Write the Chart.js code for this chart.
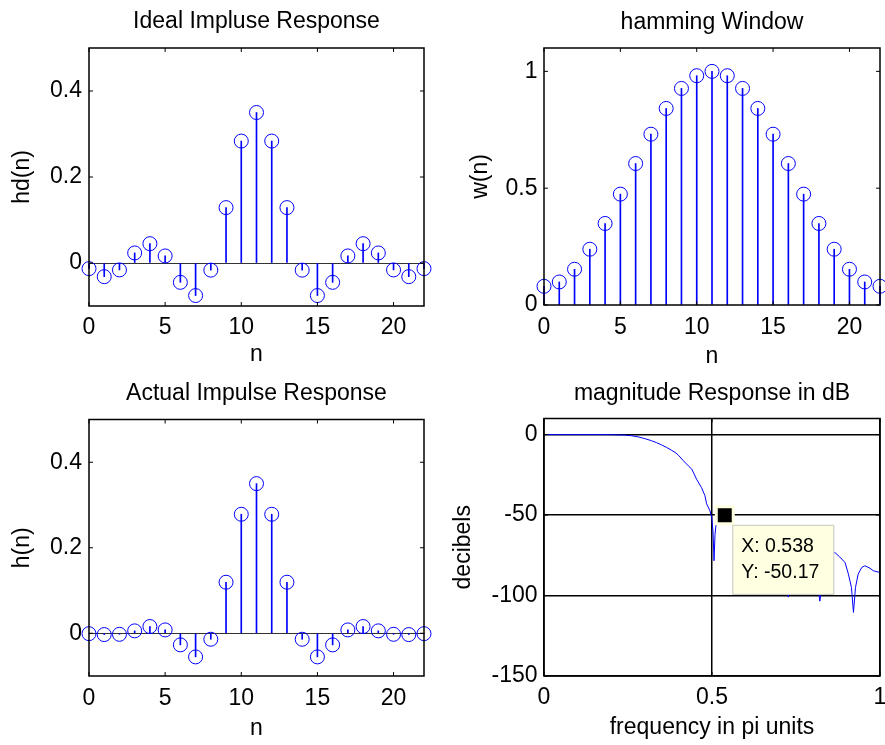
<!DOCTYPE html>
<html>
<head>
<meta charset="utf-8">
<title>FIR lowpass design - hamming window</title>
<script src="https://cdn.jsdelivr.net/npm/chart.js@4.4.1/dist/chart.umd.min.js"></script>
<style>
  html, body { margin: 0; padding: 0; background: #fff; overflow: hidden; }
  #page { position: relative; width: 885px; height: 745px; overflow: hidden; background: #fff; }
  canvas { position: absolute; }
</style>
</head>
<body>
<div id="page">
  <canvas id="c1" width="442" height="370" style="left:0;top:0"></canvas>
  <canvas id="c2" width="470" height="370" style="left:442px;top:0"></canvas>
  <canvas id="c3" width="442" height="375" style="left:0;top:370px"></canvas>
  <canvas id="c4" width="470" height="375" style="left:442px;top:370px"></canvas>
</div>
<script>
// sample index
const n = [0, 1, 2, 3, 4, 5, 6, 7, 8, 9, 10, 11, 12, 13, 14, 15, 16, 17, 18, 19, 20, 21, 22];
// ideal lowpass impulse response
const hd = [-0.0131, -0.0318, -0.0161, 0.0234, 0.0449, 0.0164, -0.0450, -0.0757, -0.0166, 0.1288, 0.2836, 0.35,
            0.2836, 0.1288, -0.0166, -0.0757, -0.0450, 0.0164, 0.0449, 0.0234, -0.0161, -0.0318, -0.0131];
// hamming window
const w = [0.08, 0.0986, 0.1530, 0.2387, 0.3489, 0.4745, 0.6055, 0.7311, 0.8413, 0.9270, 0.9814, 1.0,
           0.9814, 0.9270, 0.8413, 0.7311, 0.6055, 0.4745, 0.3489, 0.2387, 0.1530, 0.0986, 0.08];
// windowed (actual) impulse response
const h = [-0.0010, -0.0031, -0.0025, 0.0056, 0.0157, 0.0078, -0.0272, -0.0553, -0.0140, 0.1194, 0.2783, 0.35,
           0.2783, 0.1194, -0.0140, -0.0553, -0.0272, 0.0078, 0.0157, 0.0056, -0.0025, -0.0031, -0.0010];

// magnitude response, frequency in pi units
const freq = [0, 0.05, 0.10, 0.15, 0.20, 0.24, 0.26, 0.28, 0.30, 0.32, 0.335, 0.35, 0.365, 0.38, 0.39,
              0.40, 0.415, 0.43, 0.44, 0.454, 0.469, 0.479, 0.484, 0.494, 0.499, 0.503, 0.506, 0.509, 0.512, 0.52,
              0.538, 0.55, 0.56, 0.57, 0.59, 0.62, 0.64, 0.67, 0.70, 0.727, 0.75, 0.775, 0.80, 0.821, 0.84,
              0.866, 0.88, 0.896, 0.906, 0.915, 0.921, 0.927, 0.935, 0.9455, 0.955, 0.97, 0.98, 1.0];
const db = [0, 0, 0, 0, -0.05, -0.3, -0.7, -1.4, -2.5, -3.8, -5, -6.4, -8, -9.8, -11,
            -12.8, -16.3, -19.5, -21.5, -27.7, -33, -38, -43, -47.4, -51.5, -60, -78.4, -62, -56, -52,
            -50.17, -51.5, -55, -60, -70, -88, -70, -63, -68, -101, -68, -64, -70, -103.5, -76,
            -73.3, -76, -79.5, -86.7, -95, -110.5, -95, -86.7, -82.6, -81.5, -83, -84.6, -85.7];

// data cursor
const tipX = 0.538;
const tipY = -50.17;

// tick labels
const nTicks = [0, 5, 10, 15, 20];
const hTicks = [0, 0.2, 0.4];
const wTicks = [0, 0.5, 1];
const fTicks = [0, 0.5, 1];
const dbTicks = [-150, -100, -50, 0];

const BLUE = '#0000ff';
Chart.defaults.font.family = "'Liberation Sans', Arial, Helvetica, sans-serif";
Chart.defaults.font.size = 23;
Chart.defaults.color = '#000';

// axes box with tick marks pointing inwards on all four sides
const matlabBox = {
    id: 'matlabBox',
    afterDraw(chart) {
        const { ctx, chartArea: a, scales } = chart;
        const x = scales.x, y = scales.y;
        const len = 4;
        ctx.save();
        ctx.strokeStyle = '#000';
        ctx.lineWidth = 1;
        ctx.beginPath();
        x.ticks.forEach(t => {
            const px = x.getPixelForValue(t.value);
            ctx.moveTo(px, a.bottom); ctx.lineTo(px, a.bottom - len);
            ctx.moveTo(px, a.top); ctx.lineTo(px, a.top + len);
        });
        y.ticks.forEach(t => {
            const py = y.getPixelForValue(t.value);
            ctx.moveTo(a.left, py); ctx.lineTo(a.left + len, py);
            ctx.moveTo(a.right, py); ctx.lineTo(a.right - len, py);
        });
        ctx.stroke();
        ctx.lineWidth = 1.5;
        ctx.strokeRect(a.left, a.top, a.right - a.left, a.bottom - a.top);
        ctx.restore();
    }
};

// yellow data tip next to the cursor marker
const dataTip = {
    id: 'dataTip',
    afterDatasetsDraw(chart) {
        const { ctx, scales: { x, y } } = chart;
        const bx = x.getPixelForValue(tipX) + 7.5;
        const by = y.getPixelForValue(tipY) + 9.5;
        const bw = 102, bh = 70;
        ctx.save();
        ctx.fillStyle = '#ffffe1';
        ctx.fillRect(bx, by, bw, bh);
        ctx.strokeStyle = '#c8c8c8';
        ctx.lineWidth = 1;
        ctx.strokeRect(bx + 0.5, by + 0.5, bw - 1, bh - 1);
        ctx.fillStyle = '#000';
        ctx.font = "19.5px 'Liberation Sans', Arial, sans-serif";
        ctx.textBaseline = 'middle';
        ctx.fillText('X: ' + tipX.toFixed(3), bx + 9, by + 22);
        ctx.fillText('Y: ' + tipY.toFixed(2), bx + 9, by + 48);
        ctx.restore();
    }
};

function stemSets(vals) {
    const pts = n.map((k, i) => ({ x: k, y: vals[i] }));
    return [
        {
            type: 'scatter', data: pts, clip: false,
            pointStyle: 'circle', pointRadius: 7, pointBorderWidth: 1,
            pointBorderColor: BLUE, pointBackgroundColor: 'rgba(0,0,0,0)'
        },
        { type: 'bar', data: pts, clip: false, backgroundColor: BLUE, barThickness: 1 }
    ];
}

function axis(o) {
    // o: min, max, ticks, title, size (fixed width or height), pad, titlePad, grid, horizontal
    return {
        type: 'linear',
        min: o.min,
        max: o.max,
        offset: false,
        border: { display: false },
        grid: {
            drawTicks: false,
            lineWidth: o.gridWidth || 1,
            color: o.grid || 'rgba(0,0,0,0)'
        },
        ticks: { padding: o.pad, autoSkip: false, maxRotation: 0, callback: v => String(v) },
        afterBuildTicks: s => { s.ticks = o.ticks.map(v => ({ value: v })); },
        afterFit: s => { if (o.horizontal) s.height = o.size; else s.width = o.size; },
        title: { display: true, text: o.title, padding: o.titlePad }
    };
}

function makeChart(id, cfg) {
    return new Chart(document.getElementById(id), {
        type: 'scatter',
        data: { datasets: cfg.datasets },
        options: {
            responsive: false,
            animation: false,
            devicePixelRatio: 1,
            layout: { padding: { left: 0, top: 0, right: cfg.padRight, bottom: 0 } },
            plugins: {
                legend: { display: false },
                tooltip: { enabled: false },
                title: {
                    display: true, text: cfg.title, fullSize: false,
                    font: { size: 23, weight: 'normal' },
                    padding: cfg.titlePad
                }
            },
            scales: { x: cfg.x, y: cfg.y }
        },
        plugins: cfg.plugins || [matlabBox]
    });
}

// only the zero line is drawn as a baseline
const zeroLine = c => (c.tick && c.tick.value === 0) ? '#333' : 'rgba(0,0,0,0)';

makeChart('c1', {
    title: 'Ideal Impluse Response',
    titlePad: { top: 8.2, bottom: 12.2 },
    padRight: 18,
    datasets: stemSets(hd),
    x: axis({ min: 0, max: 22, ticks: nTicks, title: 'n', size: 64, pad: 8, titlePad: { top: 0, bottom: 1.2 }, horizontal: true }),
    y: axis({ min: -0.1, max: 0.5, ticks: hTicks, title: 'hd(n)', size: 89, pad: 7, titlePad: { top: 9.2, bottom: 0 }, grid: zeroLine })
});

makeChart('c2', {
    title: 'hamming Window',
    titlePad: { top: 9.2, bottom: 11.2 },
    padRight: 32,
    datasets: stemSets(w),
    x: axis({ min: 0, max: 22, ticks: nTicks, title: 'n', size: 65, pad: 8.5, titlePad: { top: 0, bottom: 0 }, horizontal: true }),
    y: axis({ min: 0, max: 1.1, ticks: wTicks, title: 'w(n)', size: 102, pad: 6.5, titlePad: { top: 25.2, bottom: 0 } })
});

makeChart('c3', {
    title: 'Actual Impulse Response',
    titlePad: { top: 9.7, bottom: 12.2 },
    padRight: 18,
    datasets: stemSets(h),
    x: axis({ min: 0, max: 22, ticks: nTicks, title: 'n', size: 69, pad: 9, titlePad: { top: 0, bottom: 2.2 }, horizontal: true }),
    y: axis({ min: -0.1, max: 0.5, ticks: hTicks, title: 'h(n)', size: 89, pad: 7, titlePad: { top: 9.2, bottom: 0 }, grid: zeroLine })
});

makeChart('c4', {
    title: 'magnitude Response in dB',
    titlePad: { top: 10.2, bottom: 10.7 },
    padRight: 32,
    datasets: [
        {
            type: 'scatter', data: [{ x: tipX, y: tipY }], clip: false,
            pointStyle: 'rect', pointRadius: 12, pointBorderWidth: 3,
            pointBackgroundColor: '#000', pointBorderColor: '#ffffe1'
        },
        {
            type: 'line', data: freq.map((f, i) => ({ x: f, y: db[i] })),
            borderColor: BLUE, borderWidth: 1, pointRadius: 0, tension: 0, fill: false
        }
    ],
    x: axis({ min: 0, max: 1, ticks: fTicks, title: 'frequency in pi units', size: 69, pad: 8, titlePad: { top: 0, bottom: 3.7 }, horizontal: true, grid: '#000', gridWidth: 1.5 }),
    y: axis({ min: -150, max: 10, ticks: dbTicks, title: 'decibels', size: 102, pad: 6.5, titlePad: { top: 8.2, bottom: 0 }, grid: '#000', gridWidth: 1.5 }),
    plugins: [dataTip, matlabBox]
});
</script>
</body>
</html>
